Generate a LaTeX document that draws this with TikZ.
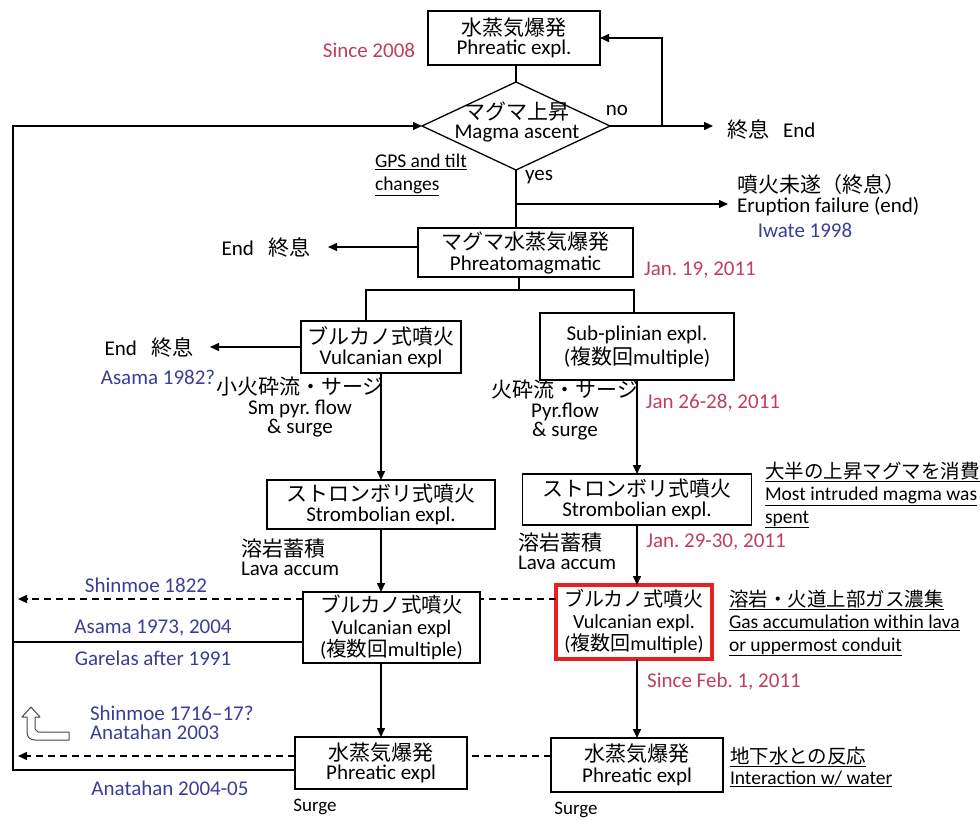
\documentclass[tikz,border=0pt]{standalone}
\usepackage{fontspec}
\setmainfont{Carlito}
\newfontfamily\jp{Noto Sans CJK JP}
\usetikzlibrary{arrows.meta,shapes.geometric,calc}
\definecolor{datered}{RGB}{192,62,92}
\definecolor{exblue}{RGB}{58,62,150}
\definecolor{boxred}{RGB}{232,32,32}
\definecolor{icon}{RGB}{70,70,90}
\newcommand\tightls{\lineskiplimit=-100pt\relax\lineskip=0pt\relax\frenchspacing}
\newcommand\fs[2]{\fontsize{#1}{#2}\selectfont\tightls}
\begin{document}
\begin{tikzpicture}[x=1pt,y=-1pt,
  every node/.style={font=\fs{21}{19.5}, inner sep=0pt, outer sep=0pt},
  box/.style={draw, line width=1.3pt, align=center, fill=white},
  conn/.style={line width=1.5pt},
  arr/.style={conn, -{Triangle[length=9pt,width=8pt]}},
  dashline/.style={line width=1.5pt, dash pattern=on 7pt off 5pt},
  dasharr/.style={dashline, -{Triangle[length=9pt,width=8pt]}},
  date/.style={text=datered},
  ex/.style={text=exblue},
  note/.style={align=left, anchor=west, font=\fs{19.5}{22.5}},
  lbl/.style={align=center},
  lbll/.style={align=left, anchor=west}
]
\useasboundingbox (0,0) rectangle (980,821);

% ---------- boxes ----------
\node[box, minimum width=172pt, minimum height=54pt] (phrTop) at (514,38) {{\jp 水蒸気爆発}\\Phreatic expl.};
\node[draw, line width=1.3pt, diamond, minimum width=188pt, minimum height=88pt] (dia) at (516,126) {};
\node[align=center] (diaT) at (517,122) {{\jp マグマ上昇}\\Magma ascent};
\node[box, minimum width=215pt, minimum height=49pt, font=\fs{21}{21}] (phrMag) at (525.5,252.5) {{\jp マグマ水蒸気爆発}\\Phreatomagmatic};
\node[box, minimum width=160pt, minimum height=52pt] (vulcL) at (381,347) {{\jp ブルカノ式噴火}\\Vulcanian expl};
\node[box, minimum width=194pt, minimum height=67pt, font=\fs{21}{24}] (subp) at (637,346.5) {Sub-plinian expl.\\({\jp 複数回}multiple)};
\node[box, minimum width=228pt, minimum height=49pt] (stromL) at (381,504.5) {{\jp ストロンボリ式噴火}\\Strombolian expl.};
\node[box, minimum width=229pt, minimum height=51pt] (stromR) at (637,499.5) {{\jp ストロンボリ式噴火}\\Strombolian expl.};
\node[box, minimum width=177pt, minimum height=71pt, font=\fs{20.5}{22}] (vulcL2) at (391.5,627.5) {{\jp ブルカノ式噴火}\\Vulcanian expl\\({\jp 複数回}multiple)};
\node[box, draw=boxred, line width=3.5pt, minimum width=156pt, minimum height=74pt, font=\fs{20}{22}] (vulcR) at (634,622) {{\jp ブルカノ式噴火}\\Vulcanian expl.\\({\jp 複数回}multiple)};
\node[box, minimum width=172pt, minimum height=52pt] (phrL) at (381,763) {{\jp 水蒸気爆発}\\Phreatic expl};
\node[box, minimum width=172pt, minimum height=54pt, font=\fs{21}{21}] (phrR) at (637,765) {{\jp 水蒸気爆発}\\Phreatic expl};

% ---------- end texts ----------
\node[anchor=west] (endR) at (727,129) {{\jp 終息}\hspace{14pt}End};
\node[lbll] (fail) at (737,195) {{\jp 噴火未遂（終息）}\\Eruption failure (end)};
\node[anchor=east] (endL) at (310,247) {End\hspace{14pt}{\jp 終息}};
\node[anchor=east] (endL2) at (193,347) {End\hspace{14pt}{\jp 終息}};

% ---------- labels ----------
\node (no) at (617,110) {no};
\node (yes) at (539,177) {yes};
\node[note] (gps) at (375,175) {\underline{GPS and tilt}\\\underline{changes}};
\node[lbl] (smpyr) at (300,407) {{\jp 小火砕流・サージ}\\Sm pyr. flow\\\& surge};
\node[lbl] (pyr) at (565,410) {{\jp 火砕流・サージ}\\Pyr.flow\\\& surge};
\node[lbll] (lavaL) at (241,557) {{\jp 溶岩蓄積}\\Lava accum};
\node[lbll] (lavaR) at (518,551) {{\jp 溶岩蓄積}\\Lava accum};
\node[font=\fs{19}{19}] (surgeL) at (315,807) {Surge};
\node[font=\fs{19}{19}] (surgeR) at (576,810) {Surge};

% ---------- notes ----------
\node[note] (note1) at (765,495) {\underline{{\jp 大半の上昇マグマを消費}}\\\underline{Most intruded magma was}\\\underline{spent}};
\node[note] (note2) at (729,623) {\underline{{\jp 溶岩・火道上部ガス濃集}}\\\underline{Gas accumulation within lava}\\\underline{or uppermost conduit}};
\node[note, font=\fs{19.5}{20.5}] (note3) at (730,767) {\underline{{\jp 地下水との反応}}\\\underline{Interaction w/ water}};

% ---------- dates ----------
\node[date] (d08) at (369,50) {Since 2008};
\node[date] (d19) at (700,270) {Jan. 19, 2011};
\node[date] (d26) at (713,403) {Jan 26-28, 2011};
\node[date] (d29) at (716,542) {Jan. 29-30, 2011};
\node[date] (dFeb) at (724,682) {Since Feb. 1, 2011};

% ---------- examples ----------
\node[ex] (iwate) at (805,230) {Iwate 1998};
\node[ex] (asama82) at (158,377) {Asama 1982?};
\node[ex] (shin1822) at (146,585) {Shinmoe 1822};
\node[ex] (asama73) at (153,628) {Asama 1973, 2004};
\node[ex] (garelas) at (153,658) {Garelas after 1991};
\node[ex, anchor=west] (shin1716) at (90,713) {Shinmoe 1716–17?};
\node[ex, anchor=west] (anat03) at (90,732) {Anatahan 2003};
\node[ex] (anat04) at (170,788) {Anatahan 2004-05};

% ---------- coordinates ----------
\coordinate (noJ) at (662,126);
\coordinate (topJ) at (13,126);
\coordinate (lowJ) at (13,770);
\coordinate (midJ) at (13,642);
\coordinate (failJ) at (516,204);
\coordinate (splitJ) at (519,290);
\coordinate (brL) at (366,290);
\coordinate (brR) at (634,290);
\coordinate (dA) at (18,599);
\coordinate (dB) at (18,756);
\coordinate (endLtip) at (328,247);
\coordinate (endL2tip) at (210,347);

% ---------- connectors ----------
\draw[conn] (dia.north) -- (dia.north |- phrTop.south);
\draw[arr, shorten >=14pt] (dia.east) -- (dia.east -| endR.west);
\draw[arr] (noJ) |- (phrTop.east);
\draw[conn] (dia.south) -- (dia.south |- phrMag.north);
\draw[arr, shorten >=9pt] (failJ) -- (failJ -| fail.west);
\draw[arr] (phrMag.west |- endLtip) -- (endLtip);
\draw[conn] (splitJ |- phrMag.south) -- (splitJ);
\draw[conn] (brL |- vulcL.north) -- (brL) -- (brR) -- (brR |- subp.north);
\draw[arr] (vulcL.west |- endL2tip) -- (endL2tip);
\draw[arr] (vulcL.south) -- (stromL.north);
\draw[arr] (stromL.south) -- (stromL.south |- vulcL2.north);
\draw[arr] (phrL.north |- vulcL2.south) -- (phrL.north);
\draw[arr] (subp.south) -- (subp.south |- stromR.north);
\draw[arr] (stromR.south) -- (stromR.south |- vulcR.north);
\draw[arr] (phrR.north |- vulcR.south) -- (phrR.north);
% feedback loop
\draw[arr] (phrL.west |- lowJ) -- (lowJ) -- (topJ) -- (dia.west);
\draw[conn] (vulcL2.west |- midJ) -- (midJ);
% dashed
\draw[dasharr] (vulcL2.west |- dA) -- (dA);
\draw[dashline] (vulcR.west |- dA) -- (vulcL2.east |- dA);
\draw[dasharr] (phrL.west |- dB) -- (dB);
\draw[dashline] (phrR.west |- dB) -- (phrL.east |- dB);

% ---------- icon ----------
\draw[icon, line width=1pt, line join=round, fill=white]
  (69,732) -- (38,732) -- (35,729) -- (35,717) -- (40,717) -- (31,707) -- (22,717) -- (27,717) -- (27,732)
  .. controls (27,737) and (30,740) .. (35,740) -- (69,740) -- cycle;
\end{tikzpicture}
\end{document}
